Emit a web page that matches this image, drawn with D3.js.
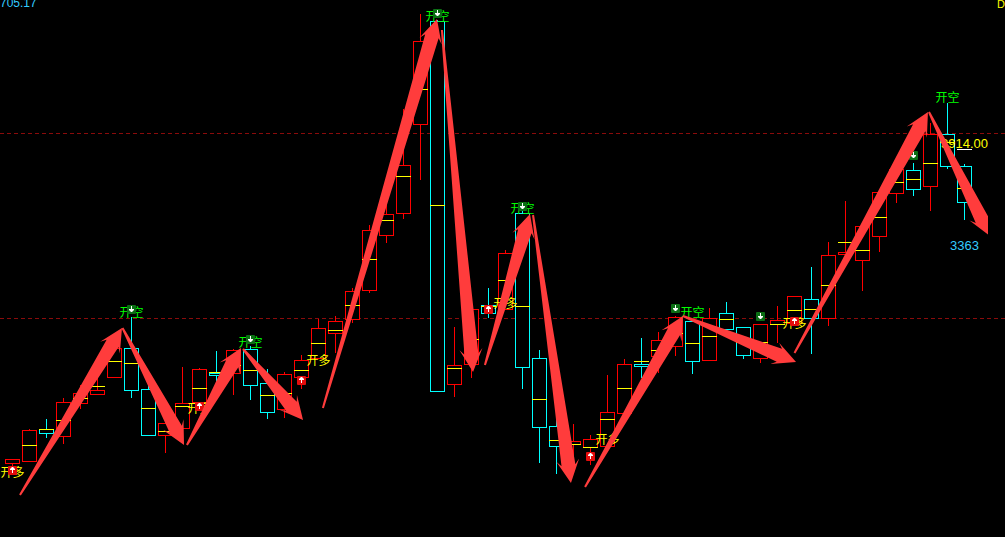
<!DOCTYPE html>
<html>
<head>
<meta charset="utf-8">
<script src="https://cdnjs.cloudflare.com/ajax/libs/d3/7.8.5/d3.min.js"></script>
<style>
html,body{margin:0;padding:0;background:#000;overflow:hidden}
svg{display:block}
</style>
</head>
<body>
<svg id="c" width="1005" height="537"></svg>
<script>
const opens  = [3537,3539,3571,3564,3597,3606,3623,3652,3611,3565,3572,3598,3627,3627,3651,3617,3591,3623,3642,3667,3681,3710,3765,3787,3876,3979,3616,3636,3695,3691,3787,3642,3574,3556,3553,3554,3587,3636,3644,3654,3679,3640,3687,3673,3642,3676,3677,3701,3682,3746,3740,3764,3807,3830,3814,3866,3834];
const closes = [3541,3570,3567,3598,3607,3610,3652,3610,3565,3577,3597,3631,3625,3650,3615,3588,3626,3640,3672,3679,3709,3770,3786,3835,3959,3609,3635,3691,3687,3747,3633,3573,3554,3559,3561,3588,3636,3634,3660,3683,3639,3682,3671,3645,3676,3680,3704,3682,3745,3748,3774,3808,3831,3811,3866,3834,3798];
const highs  = [3541,3571,3581,3602,3615,3626,3660,3683,3617,3577,3633,3632,3649,3651,3654,3631,3628,3645,3681,3684,3712,3775,3797,3891,3986,3980,3673,3691,3712,3750,3792,3650,3585,3576,3565,3625,3641,3662,3668,3684,3679,3692,3698,3673,3676,3694,3704,3733,3758,3799,3774,3808,3831,3837,3877,3897,3836];
const lows   = [3529,3538,3562,3556,3591,3605,3622,3602,3564,3547,3572,3590,3610,3605,3600,3581,3582,3611,3641,3647,3677,3707,3757,3781,3820,3609,3603,3622,3682,3691,3611,3537,3526,3537,3535,3554,3587,3622,3627,3644,3626,3640,3669,3641,3637,3657,3674,3646,3674,3746,3709,3748,3797,3804,3789,3831,3780];
const mids   = [null,3555,3571,3580,3602,3614,3639,3637,3592,3569,3594,3612,3628,3635,3630,3605,3607,3630,3657,3670,3695,3741,3780,3824,3911,3795,3632,3661,3694,3720,3694,3601,3560,3556,3553,3581,3612,3639,3650,3667,3657,3664,3681,3658,3658,3676,3690,3691,3715,3758,3750,3783,3818,3821,3837,3858,3812];

const refLevels = [3867,3682];

const longBars    = [0,11,18,29,35,46];
const longPrices  = [3529,3593,3641,3698,3562,3678];
const shortBars   = [7,14,25,30,40,55];
const shortPrices = [3689,3659,3985,3793,3689,3904];
const longText = "开多";
const shortText = "开空";

const upIconBars     = [0,11,17,28,34,46];
const upIconPrices   = [3530,3594,3620,3691,3544,3679];
const downIconBars   = [7,14,25,30,39,44,53];
const downIconPrices = [3691,3661,3987,3794,3692,3684,3845];

const arrowFromBar   = [0.44,6.47,10.26,13.56,18.26,25.26,27.79,30.62,33.68,39.44,46.0,53.91];
const arrowFromPrice = [3505,3672,3555,3651,3592,3970,3635,3785,3513,3684,3647,3888];
const arrowToBar     = [6.44,10.09,13.44,17.09,24.97,27.09,30.44,32.85,39.44,46.09,53.85,57.5];
const arrowToPrice   = [3672,3555,3652,3580,3981,3628,3786,3517,3684,3638,3888,3764];

const priceLabel = "3914.00";
const lowLabel = "3363";
const cornerLeft = "705.17";
const cornerRight = "D";

const svg = d3.select("#c");
const W = 1005, H = 537;
const x = d3.scaleLinear().domain([0,56]).range([12.5,964.5]);
const y = d3.scaleLinear().domain([4000-H,4000]).range([H,0]);
const RED="#ff0000", CYAN="#00ffff", YEL="#ffff00";

svg.append("rect").attr("width",W).attr("height",H).attr("fill","#000");

svg.selectAll("line.ref").data(refLevels).join("line")
  .attr("class","ref").attr("x1",0).attr("x2",W)
  .attr("y1",d=>y(d)+.5).attr("y2",d=>y(d)+.5)
  .attr("stroke","#8a0b0b").attr("stroke-dasharray","4 3");

const bars = d3.range(opens.length);
const col = i => closes[i]>=opens[i] ? RED : CYAN;
const g = svg.append("g");
g.selectAll("line.w").data(bars).join("line").attr("class","w")
  .attr("x1",i=>x(i)).attr("x2",i=>x(i))
  .attr("y1",i=>y(highs[i])).attr("y2",i=>y(lows[i]))
  .attr("stroke",col);
g.selectAll("rect.b").data(bars).join("rect").attr("class","b")
  .attr("x",i=>x(i)-7).attr("width",14)
  .attr("y",i=>y(Math.max(opens[i],closes[i]))+.5)
  .attr("height",i=>Math.abs(opens[i]-closes[i]))
  .attr("fill","#000").attr("stroke",col);
g.selectAll("line.m").data(bars.filter(i=>mids[i]!==null)).join("line").attr("class","m")
  .attr("x1",i=>x(i)-7.5).attr("x2",i=>x(i)+7.5)
  .attr("y1",i=>y(mids[i])+.5).attr("y2",i=>y(mids[i])+.5)
  .attr("stroke",YEL);

function labels(bs,ps,t,c){
  svg.selectAll(null).data(bs).join("text")
    .attr("x",b=>x(b)).attr("y",(b,i)=>y(ps[i]))
    .attr("text-anchor","middle").attr("dominant-baseline","central")
    .attr("font-family","'Noto Sans CJK SC'").attr("font-size",12)
    .attr("fill",c).text(t);
}
labels(longBars,longPrices,longText,YEL);
labels(shortBars,shortPrices,shortText,"#00ff00");

function icons(bs,ps,fill,up){
  const ig = svg.selectAll(null).data(bs).join("g")
    .attr("transform",(b,i)=>`translate(${Math.floor(x(b))},${y(ps[i])})`);
  ig.append("rect").attr("x",-4).attr("y",-4).attr("width",9).attr("height",9).attr("rx",1).attr("fill",fill);
  ig.append("path").attr("fill","#fff")
    .attr("d",up ? "M-2,-1L0,-3H1L3,-1V0H1V3H0V0H-2Z" : "M-2,1L0,3H1L3,1V0H1V-3H0V0H-2Z");
}
icons(upIconBars,upIconPrices,"#e40c0c",true);
icons(downIconBars,downIconPrices,"#0b6e14",false);

const numFont = "'Liberation Sans'";
function txt(xp,yp,s,c,size){
  svg.append("text").attr("x",xp).attr("y",yp)
    .attr("dominant-baseline","central").attr("font-family",numFont).attr("font-size",size)
    .attr("fill",c).text(s);
}
txt(0,3,cornerLeft,"#33ccff",12);
txt(997,4,cornerRight,YEL,11);
txt(941,143,priceLabel,YEL,13);
txt(950,245,lowLabel,"#33ccff",13);
svg.append("line").attr("x1",957).attr("x2",972).attr("y1",149.5).attr("y2",149.5).attr("stroke","#fff");

// tapered arrows
svg.append("clipPath").attr("id","clip").append("rect").attr("width",988).attr("height",H);
const HEAD=23, HALF=11.5, NOTCH=18, SHAFT=7, TAIL=1;
function arrowPath(i){
  const x0=x(arrowFromBar[i]), y0=y(arrowFromPrice[i]), x1=x(arrowToBar[i]), y1=y(arrowToPrice[i]);
  const L=Math.hypot(x1-x0,y1-y0), ux=(x1-x0)/L, uy=(y1-y0)/L, nx=-uy, ny=ux;
  const P=(along,off)=>[x1-ux*along+nx*off, y1-uy*along+ny*off];
  const pts=[[x0+nx*TAIL,y0+ny*TAIL],P(NOTCH,SHAFT),P(HEAD,HALF),[x1,y1],P(HEAD,-HALF),P(NOTCH,-SHAFT),[x0-nx*TAIL,y0-ny*TAIL]];
  return d3.line()(pts)+"Z";
}
svg.append("g").attr("clip-path","url(#clip)")
  .selectAll("path").data(d3.range(arrowFromBar.length)).join("path")
  .attr("d",arrowPath).attr("fill","#ff3c3c");
</script>
</body>
</html>
